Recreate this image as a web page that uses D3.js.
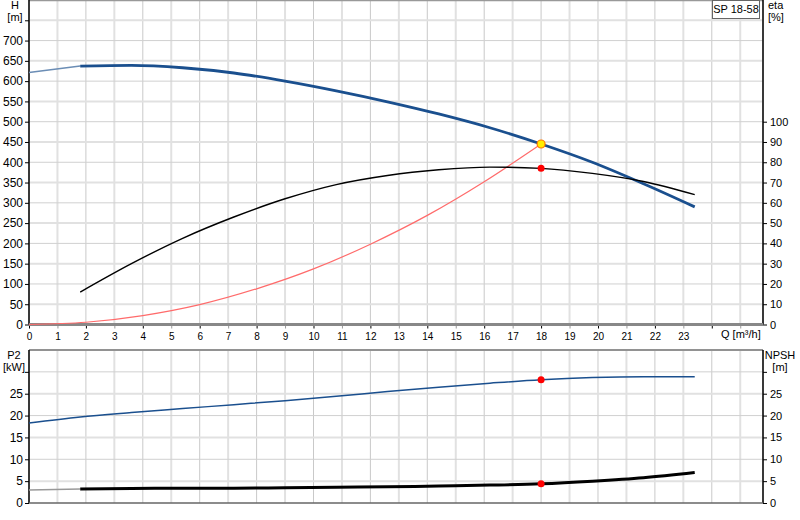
<!DOCTYPE html>
<html lang="en">
<head>
<meta charset="utf-8">
<title>SP 18-58</title>
<script src="https://cdn.jsdelivr.net/npm/d3@7"></script>
<style>
	body { margin: 0; background: #fff; }
	text { font-family: "Liberation Sans", Arial, sans-serif; font-size: 11px; fill: #000; }
</style>
</head>
<body>
<script>

// curve values
var qCurve = [0, 1.8, 3.6, 5.4, 7.2, 9, 10.8, 12.6, 14.4, 16.2, 18, 19.8, 21.6, 23.4];
var headH  = [621, 637, 639, 633, 620, 600, 576, 549, 519, 485, 445, 400, 347, 290];
var p2kW   = [18.3, 19.7, 20.7, 21.6, 22.5, 23.4, 24.4, 25.5, 26.5, 27.4, 28.2, 28.7, 28.9, 28.9];
var npshM  = [3.0, 3.2, 3.3, 3.4, 3.4, 3.5, 3.6, 3.7, 3.9, 4.1, 4.4, 5.0, 5.8, 7.0];

var qEta   = [1.8, 3.6, 5.4, 7.2, 9, 10.8, 12.6, 14.4, 16.2, 18, 19.8, 21.6, 23.4];
var etaPct = [16, 30, 42.5, 53, 62, 69, 73.5, 76.3, 77.6, 77, 74.5, 70.5, 64];

// system curve up to the duty point
var qSys = [0, 2, 4, 6, 8, 10, 12, 14, 16, 18];
var hSys = [0, 5.5, 22, 49, 88, 137, 198, 269, 352, 445];

// duty point
var dutyQ = 18, dutyH = 445, dutyEta = 77, dutyP2 = 28.2, dutyNpsh = 4.4;

var qTicks   = d3.range(0, 26);
var hTicks   = d3.range(0, 751, 50);
var etaTicks = d3.range(0, 101, 10);
var pTicks   = d3.range(0, 31, 5);

var w = 800, h = 520;
var x    = d3.scaleLinear().domain([0, 25.8]).range([29, 763]);
var yH   = d3.scaleLinear().domain([0, 800]).range([324.5, 0]);
var yEta = d3.scaleLinear().domain([0, 160]).range([324.5, 0]);
var yP   = d3.scaleLinear().domain([0, 35]).range([503, 350]);

var svg = d3.select("body").append("svg").attr("width", w).attr("height", h);

// grids
function vGrid(y0, y1) {
	svg.append("g").selectAll("line").data(qTicks.concat([25.8])).enter().append("line")
		.attr("x1", d => x(d)).attr("x2", d => x(d))
		.attr("y1", y0).attr("y2", y1)
		.attr("stroke", d => d % 2 === 0 ? "#c9c9c9" : "#e1e1e1")
		.attr("stroke-width", d => d % 2 === 0 ? 1 : 2);
}
vGrid(0, 324.5);
vGrid(350, 503);

svg.append("g").selectAll("line").data(d3.range(50, 801, 50)).enter().append("line")
	.attr("x1", x(0)).attr("x2", x(25.8))
	.attr("y1", d => yH(d)).attr("y2", d => yH(d))
	.attr("stroke", d => d % 100 === 0 ? "#d0d0d0" : "#e1e1e1")
	.attr("stroke-width", d => d % 100 === 0 ? 1 : 2);

svg.append("g").selectAll("line").data(d3.range(5, 36, 5)).enter().append("line")
	.attr("x1", x(0)).attr("x2", x(25.8))
	.attr("y1", d => yP(d)).attr("y2", d => yP(d))
	.attr("stroke", d => d % 10 === 0 ? "#d0d0d0" : "#e1e1e1")
	.attr("stroke-width", d => d % 10 === 0 ? 1 : 2);

// frame lines
svg.append("line").attr("x1", x(0)).attr("x2", x(25.8)).attr("y1", 0.5).attr("y2", 0.5)
	.attr("stroke", "#999").attr("stroke-width", 1.5);
svg.append("line").attr("x1", x(0)).attr("x2", x(25.8)).attr("y1", 350).attr("y2", 350)
	.attr("stroke", "#777").attr("stroke-width", 1.5);

// axes
function styleAxis(size) {
	return function(g) {
		g.select(".domain").remove();
		g.selectAll("text").style("font-size", size + "px").attr("fill", "#000");
	};
}

svg.append("g").attr("transform", "translate(" + x(0) + ",0)")
	.call(d3.axisLeft(yH).tickValues(hTicks).tickSize(4).tickPadding(2)
		.tickFormat(d => d <= 700 ? d : ""))
	.call(styleAxis(12));

svg.append("g").attr("transform", "translate(" + x(25.8) + ",0)")
	.call(d3.axisRight(yEta).tickValues(etaTicks).tickSize(4).tickPadding(3))
	.call(styleAxis(11));

var xa = svg.append("g").attr("transform", "translate(0," + yH(0) + ")")
	.call(d3.axisBottom(x).tickValues(qTicks).tickSize(4).tickPadding(4)
		.tickFormat(d => d <= 23 ? d : ""))
	.call(styleAxis(10));
xa.selectAll(".tick line").attr("stroke", d => d % 2 === 0 ? "#000" : "#999");

svg.append("g").attr("transform", "translate(" + x(0) + ",0)")
	.call(d3.axisLeft(yP).tickValues(pTicks).tickSize(4).tickPadding(2)
		.tickFormat(d => d <= 25 ? d : ""))
	.call(styleAxis(12));

svg.append("g").attr("transform", "translate(" + x(25.8) + ",0)")
	.call(d3.axisRight(yP).tickValues(pTicks).tickSize(4).tickPadding(3)
		.tickFormat(d => d <= 25 ? d : ""))
	.call(styleAxis(11));

// axis lines
svg.append("line").attr("x1", x(0)).attr("x2", x(0)).attr("y1", 0).attr("y2", yH(0))
	.attr("stroke", "#000").attr("stroke-width", 1.5);
svg.append("line").attr("x1", x(25.8)).attr("x2", x(25.8)).attr("y1", 0).attr("y2", yH(0))
	.attr("stroke", "#000").attr("stroke-width", 1.5);
svg.append("line").attr("x1", x(0)).attr("x2", x(0)).attr("y1", 350).attr("y2", yP(0))
	.attr("stroke", "#000").attr("stroke-width", 1.5);
svg.append("line").attr("x1", x(25.8)).attr("x2", x(25.8)).attr("y1", 350).attr("y2", yP(0))
	.attr("stroke", "#000").attr("stroke-width", 1.5);
svg.append("line").attr("x1", x(0)).attr("x2", x(25.8)).attr("y1", yH(0)).attr("y2", yH(0))
	.attr("stroke", "#888").attr("stroke-width", 3);
svg.append("line").attr("x1", x(0)).attr("x2", x(25.8)).attr("y1", yP(0)).attr("y2", yP(0))
	.attr("stroke", "#666").attr("stroke-width", 1.5);

// curves
function draw(qs, vs, ys, color, width) {
	var pts = qs.map((q, i) => [q, vs[i]]);
	svg.append("path").datum(pts)
		.attr("fill", "none").attr("stroke", color).attr("stroke-width", width)
		.attr("stroke-linejoin", "round")
		.attr("d", d3.line().x(d => x(d[0])).y(d => ys(d[1])).curve(d3.curveMonotoneX));
}

draw(qSys, hSys, yH, "#ff6b6b", 1.2);

draw(qCurve.slice(0, 2), headH.slice(0, 2), yH, "#6b8db5", 1.5);
draw(qCurve.slice(1), headH.slice(1), yH, "#1a4f8e", 2.8);

draw(qEta, etaPct, yEta, "#000", 1.4);

draw(qCurve, p2kW, yP, "#1a4f8e", 1.5);

draw(qCurve.slice(0, 2), npshM.slice(0, 2), yP, "#999", 1.5);
draw(qCurve.slice(1), npshM.slice(1), yP, "#000", 3);

// duty point markers
svg.append("circle").attr("cx", x(dutyQ)).attr("cy", yEta(dutyEta)).attr("r", 3.5).attr("fill", "#ff0000");
svg.append("circle").attr("cx", x(dutyQ)).attr("cy", yP(dutyP2)).attr("r", 3.5).attr("fill", "#ff0000");
svg.append("circle").attr("cx", x(dutyQ)).attr("cy", yP(dutyNpsh)).attr("r", 3.5).attr("fill", "#ff0000");
svg.append("circle").attr("cx", x(dutyQ)).attr("cy", yH(dutyH)).attr("r", 4)
	.attr("fill", "#ffee00").attr("stroke", "#ff7700").attr("stroke-width", 1.2);

// unit labels
function label(t, tx, ty, anchor) {
	svg.append("text").attr("x", tx).attr("y", ty).attr("text-anchor", anchor || "middle").text(t);
}
label("H", 15, 9);
label("[m]", 15, 21);
label("eta", 768, 9, "start");
label("[%]", 768, 21, "start");
label("P2", 14, 359);
label("[kW]", 14, 371);
label("NPSH", 780, 359);
label("[m]", 780, 371);
label("Q [m³/h]", 721, 338, "start");

// pump name box
svg.append("rect").attr("x", 712.5).attr("y", 0.5).attr("width", 47).attr("height", 18)
	.attr("fill", "#fff").attr("stroke", "#666");
label("SP 18-58", 736, 13);

</script>
</body>
</html>
